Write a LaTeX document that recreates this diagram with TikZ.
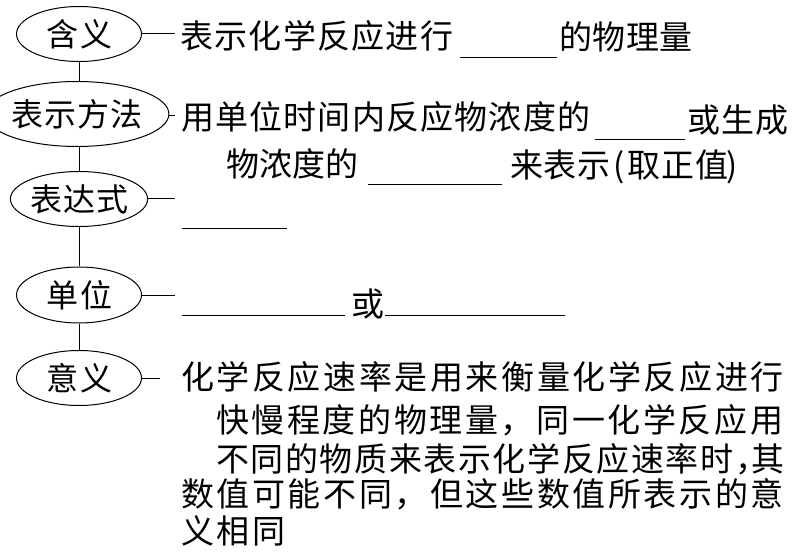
\documentclass[tikz,border=0pt]{standalone}
\usepackage{fontspec}
\usetikzlibrary{shapes.geometric}
\newfontfamily\cjk{Noto Sans CJK SC}
\newlength\cjkpitch
\def\pitched#1#2{\setlength\cjkpitch{#1pt}\pitchedi#2\relax}
\def\pitchedi#1{\ifx#1\relax\else\makebox[\cjkpitch][l]{#1}\expandafter\pitchedi\fi}
\tikzset{
  topic/.style={draw, line width=1pt, ellipse, inner sep=0pt, font=\cjk\fontsize{32}{38}\selectfont},
  txt/.style={anchor=base west, inner sep=0pt, font=\cjk\fontsize{33}{40}\selectfont},
  link/.style={line width=1pt},
  blank/.style={line width=1pt}
}
\begin{document}
\begin{tikzpicture}[x=1pt,y=-1pt]
\useasboundingbox (0,0) rectangle (798,556);
% topics
\node[topic, minimum width=125pt, minimum height=55pt] (hanyi) at (79,34) {\pitched{34}{含义}\kern-3pt};
\node[topic, minimum width=150pt, minimum height=65pt] (fangfa) at (77,114) {\pitched{33}{表示方法}\kern-2pt};
\node[topic, minimum width=125pt, minimum height=55pt] (biaodashi) at (79,199) {\pitched{33}{表达式}\kern-2pt};
\node[topic, minimum width=125pt, minimum height=56pt] (danwei) at (79,295) {\pitched{34}{单位}\kern-3pt};
\node[topic, minimum width=125pt, minimum height=55pt] (yiyi) at (79,378) {\pitched{34}{意义}\kern-3pt};
% vertical links
\draw[link] (hanyi.south) -- (hanyi.south |- fangfa.north);
\draw[link] (hanyi.south |- fangfa.south) -- (hanyi.south |- biaodashi.north);
\draw[link] (biaodashi.south) -- (danwei.north);
\draw[link] (danwei.south) -- (yiyi.north);
% horizontal links
\coordinate (e1) at (175,34);
\coordinate (e2) at (175,116);
\coordinate (e3) at (175,199);
\coordinate (e4) at (175,295);
\coordinate (e5) at (160,378);
\draw[link] (hanyi.east) -- (e1);
\draw[link] (fangfa.east |- e2) -- (e2);
\draw[link] (biaodashi.east) -- (e3);
\draw[link] (danwei.east) -- (e4);
\draw[link] (yiyi.east) -- (e5);
% row 1
\node[txt] (t1a) at (180,48.5) {\pitched{34.3}{表示化学反应进行}};
\draw[blank] (460,58) -- (557,58);
\node[txt] (t1b) at (559,49.5) {\pitched{33.5}{的物理量}};
% row 2
\node[txt] (t2a) at (181,130) {\pitched{34.2}{用单位时间内反应物浓度的}};
\draw[blank] (595,140) -- (685,140);
\node[txt] (t2b) at (687,132.5) {\pitched{34}{或生成}};
\node[txt] (t3a) at (226,176.5) {\pitched{33}{物浓度的}};
\draw[blank] (368,185) -- (502,185);
\node[txt] (t3b) at (510,177.5) {\pitched{33.5}{来表示}\kern3pt(\kern3pt\pitched{34}{取正值}\kern-3pt)};
% row 3
\draw[blank] (182,229) -- (287,229);
% row 4
\draw[blank] (182,315) -- (345,315);
\node[txt] (t5) at (351,316.5) {或};
\draw[blank] (385,315) -- (565,315);
% row 5
\node[txt] (p1) at (181,389.5) {\pitched{35.6}{化学反应速率是用来衡量化学反应进行}};
\node[txt] (p2) at (216,432.5) {\pitched{35.6}{快慢程度的物理量，同一化学反应用}};
\node[txt] (p3) at (216,471) {\pitched{34.6}{不同的物质来表示化学反应速率时}\makebox[16pt][l]{，}\pitched{34.6}{其}};
\node[txt] (p4) at (181,506) {\pitched{35.6}{数值可能不同，但这些数值所表示的意}};
\node[txt] (p5) at (181,543.5) {\pitched{35.6}{义相同}};
\end{tikzpicture}
\end{document}
